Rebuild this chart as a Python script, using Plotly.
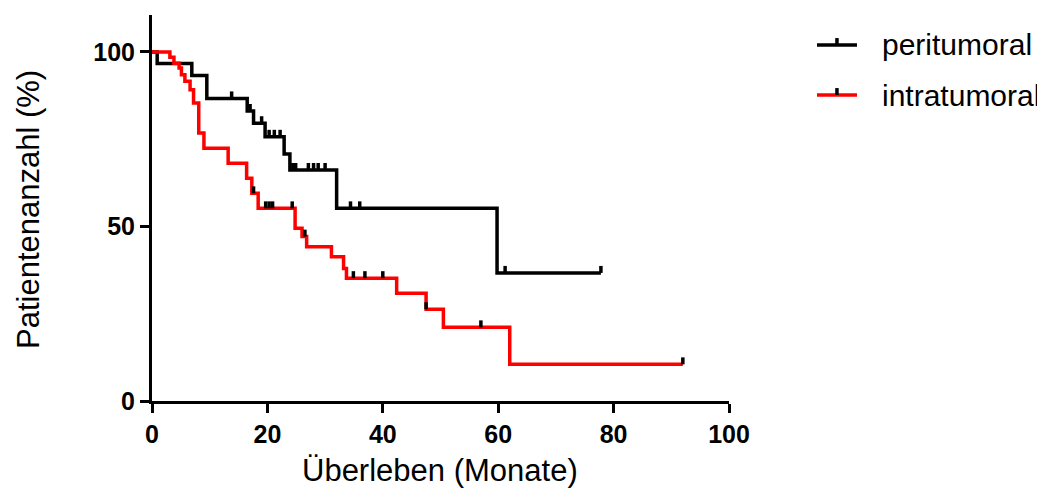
import plotly.graph_objects as go

# ---- data ----
peri_time = [0, 0.9, 6.9, 9.5, 16.5, 17.6, 19.6, 22.9, 23.9, 32.0, 59.8, 77.8]
peri_surv = [100, 96.7, 93.3, 86.7, 83.1, 79.6, 75.7, 70.8, 66.2, 55.2, 36.7, 36.7]
peri_cens_time = [13.8, 17.0, 19.0, 20.3, 21.2, 22.2, 24.4, 24.9, 27.1, 28.0, 28.8, 30.0, 34.4, 36.0, 61.2, 77.8]
peri_cens_surv = [86.7, 83.1, 79.6, 75.7, 75.7, 75.7, 66.2, 66.2, 66.2, 66.2, 66.2, 66.2, 55.2, 55.2, 36.7, 36.7]

intra_time = [0, 3.1, 3.8, 4.7, 5.1, 5.7, 6.6, 7.2, 8.1, 9.0, 13.2, 16.4, 17.3, 18.4, 24.8, 26.0, 26.8,
              31.1, 33.2, 33.7, 42.4, 47.5, 50.5, 62.0, 92.0]
intra_surv = [100, 98.5, 96.8, 95.4, 93.5, 91.6, 89.2, 85.4, 76.8, 72.4, 68.1, 63.8, 59.5, 55.2, 49.5, 47.1, 44.2,
              41.3, 38.0, 35.2, 30.9, 26.3, 21.1, 10.5, 10.5]
intra_cens_time = [17.6, 19.7, 20.3, 20.9, 24.3, 26.5, 34.9, 36.9, 40.0, 47.5, 57.0, 92.0]
intra_cens_surv = [59.5, 55.2, 55.2, 55.2, 55.2, 47.1, 35.2, 35.2, 35.2, 26.3, 21.1, 10.5]

series_names = ["peritumoral", "intratumoral"]
x_ticks = [0, 20, 40, 60, 80, 100]
y_ticks = [0, 50, 100]

FONT = "Liberation Sans, Arial, sans-serif"
TICK_H = 2.0
LW = 3.5

def tick_segments(ts, ss):
    xs, ys = [], []
    for t, s in zip(ts, ss):
        xs += [t, t, None]
        ys += [s, s + TICK_H, None]
    return xs, ys

fig = go.Figure()
fig.add_trace(go.Scatter(x=peri_time, y=peri_surv, mode="lines", line=dict(color="black", width=LW, shape="hv"),
                         name=series_names[0], showlegend=False))
fig.add_trace(go.Scatter(x=intra_time, y=intra_surv, mode="lines", line=dict(color="#ff0000", width=LW, shape="hv"),
                         name=series_names[1], showlegend=False))
for ts, ss, nm in [(peri_cens_time, peri_cens_surv, series_names[0]), (intra_cens_time, intra_cens_surv, series_names[1])]:
    xs, ys = tick_segments(ts, ss)
    fig.add_trace(go.Scatter(x=xs, y=ys, mode="lines", line=dict(color="black", width=LW),
                             name=nm + " (zensiert)", showlegend=False, connectgaps=False))

# manual legend
leg = [(series_names[0], "black", 0.9223), (series_names[1], "#ff0000", 0.7927)]
for nm, col, yy in leg:
    fig.add_shape(type="line", xref="paper", yref="paper", x0=1.1525, x1=1.2218, y0=yy, y1=yy,
                  line=dict(color=col, width=LW))
    fig.add_shape(type="line", xref="paper", yref="paper", x0=1.1871, x1=1.1871, y0=yy, y1=yy + 0.018,
                  line=dict(color="black", width=LW))
    fig.add_annotation(xref="paper", yref="paper", x=1.2617, y=yy, text=nm, showarrow=False,
                       xanchor="left", yanchor="middle", font=dict(family=FONT, size=30, color="black"))

fig.add_annotation(xref="paper", yref="paper", x=0.4991, y=-0.1788, text="Überleben (Monate)", showarrow=False,
                   xanchor="center", yanchor="middle", font=dict(family=FONT, size=31, color="black"))
fig.add_annotation(xref="paper", yref="paper", x=-0.2149, y=0.4948, text="Patientenanzahl (%)", showarrow=False,
                   textangle=-90, xanchor="center", yanchor="middle", font=dict(family=FONT, size=31, color="black"))

fig.update_layout(
    width=1037, height=485,
    margin=dict(l=144, r=316, t=7, b=92),
    paper_bgcolor="white", plot_bgcolor="white",
    showlegend=False,
    xaxis=dict(range=[0, 100], tickvals=x_ticks, ticks="outside", ticklen=9, tickwidth=3, tickcolor="black",
               showline=True, linewidth=3, linecolor="black", showgrid=False, zeroline=False,
               tickfont=dict(family=FONT, size=25, color="black", weight="bold")),
    yaxis=dict(range=[0, 110.6], tickvals=y_ticks, ticks="outside", ticklen=9, tickwidth=3, tickcolor="black",
               showline=True, linewidth=3, linecolor="black", showgrid=False, zeroline=False,
               tickfont=dict(family=FONT, size=25, color="black", weight="bold")),
)

fig.write_html("out.html")
